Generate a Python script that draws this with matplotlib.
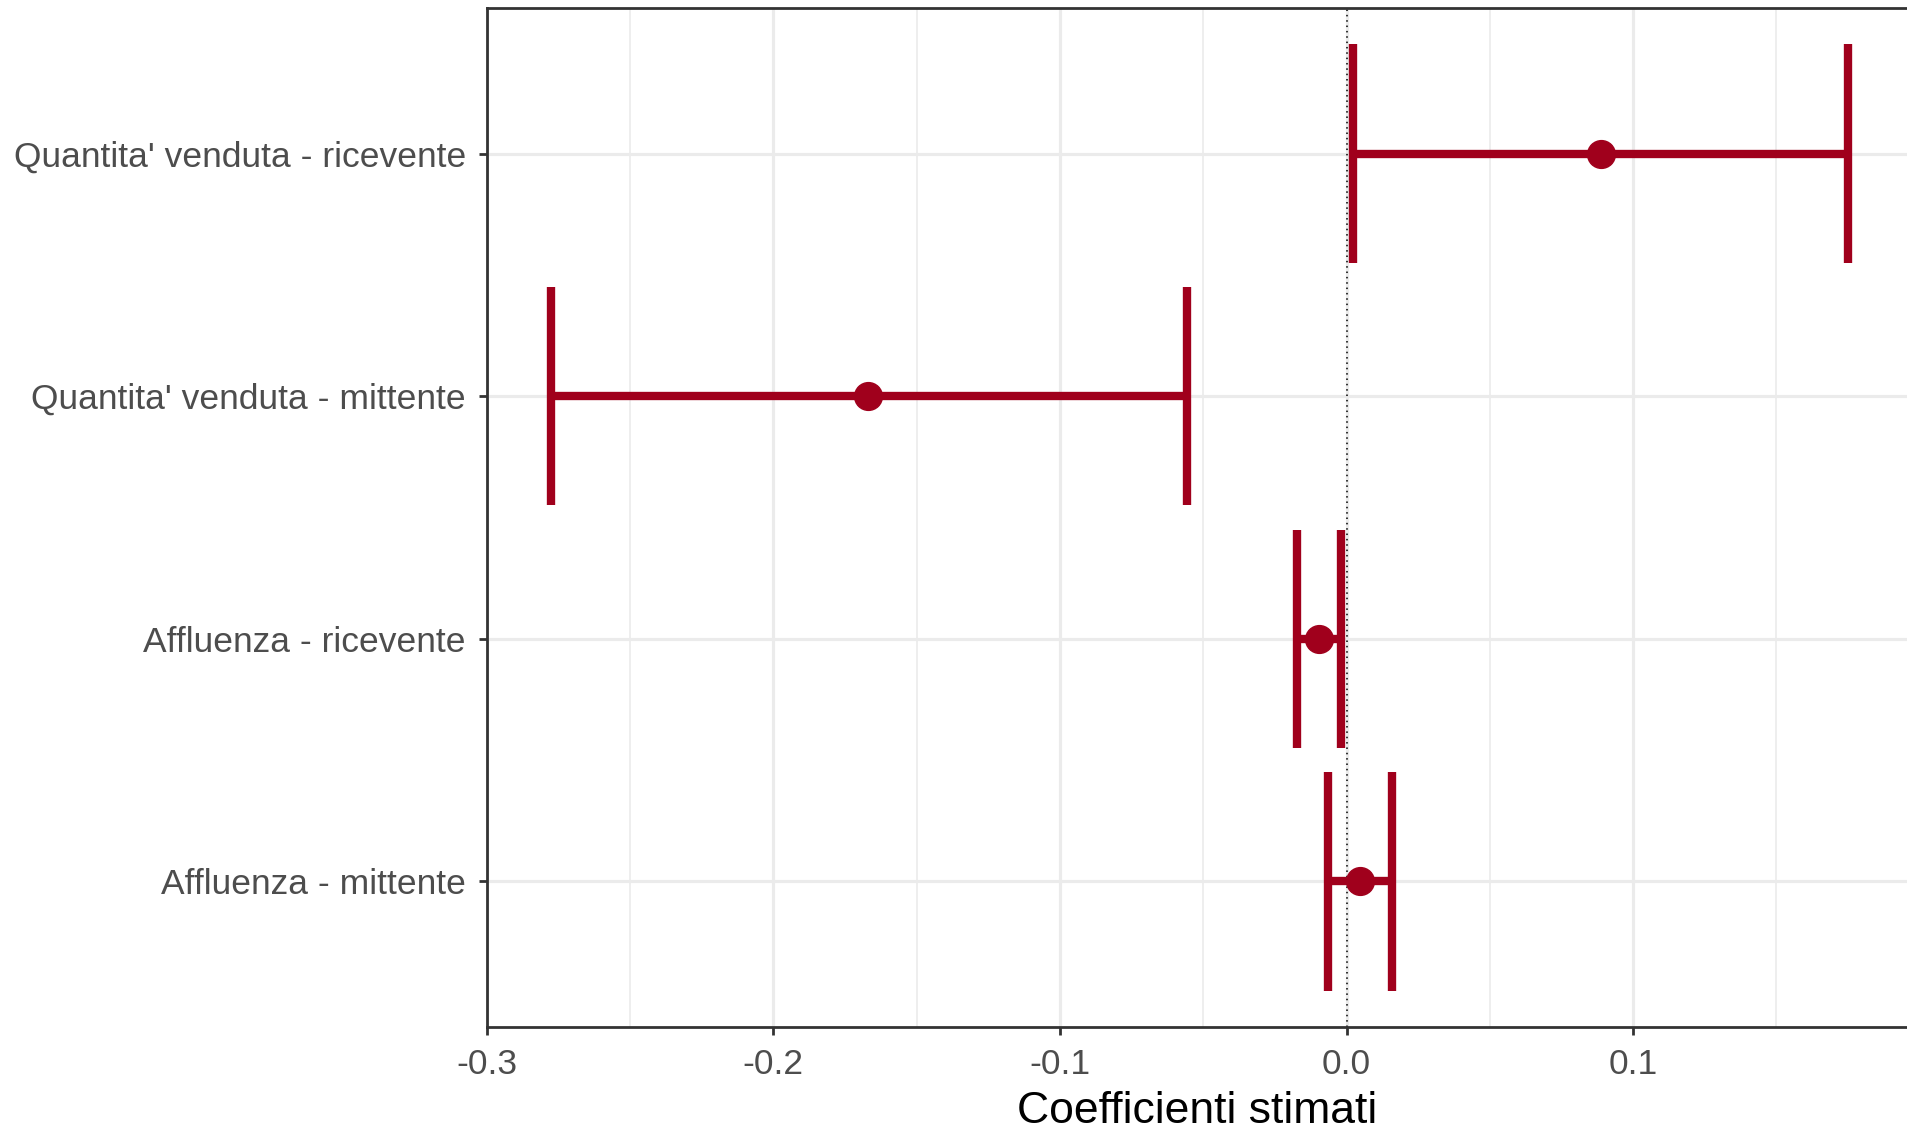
import matplotlib
matplotlib.use("Agg")
import matplotlib.pyplot as plt
from matplotlib.ticker import FixedLocator

plt.rcParams['font.family'] = ['Liberation Sans', 'DejaVu Sans']

categories = ["Affluenza - mittente", "Affluenza - ricevente",
              "Quantita' venduta - mittente", "Quantita' venduta - ricevente"]
estimate = [0.0047, -0.0097, -0.1669, 0.0887]
lower = [-0.0064, -0.0174, -0.2777, 0.0021]
upper = [0.0157, -0.0018, -0.0556, 0.1750]
xticks = [-0.3, -0.2, -0.1, 0.0, 0.1]
xticklabels = ["-0.3", "-0.2", "-0.1", "0.0", "0.1"]
xminor = [-0.25, -0.15, -0.05, 0.05, 0.15]

color = '#A0001C'
fig = plt.figure(figsize=(19.08, 11.32), dpi=100)
ax = fig.add_axes([0.2551, 0.0928, 0.7449, 0.9929 - 0.0928])

ypos = list(range(1, len(categories) + 1))
ax.set_xlim(-0.3, 0.1959)
ax.set_ylim(0.4, len(categories) + 0.6)

ax.xaxis.set_major_locator(FixedLocator(xticks))
ax.xaxis.set_minor_locator(FixedLocator(xminor))
ax.set_xticks(xticks)
ax.set_xticklabels(xticklabels)
ax.set_yticks(ypos)
ax.set_yticklabels(categories)

ax.grid(True, which='major', color='#EBEBEB', lw=2.3, zorder=0)
ax.grid(True, which='minor', axis='x', color='#EBEBEB', lw=1.2, zorder=0)
ax.set_axisbelow(True)

ax.axvline(0, color='black', lw=1.1, ls=(0, (1, 2.5)), zorder=1)

h = 0.45
ax.hlines(ypos, lower, upper, color=color, lw=6.0, zorder=3, capstyle='butt')
ax.vlines(lower, [y - h for y in ypos], [y + h for y in ypos], color=color, lw=6.0, zorder=3)
ax.vlines(upper, [y - h for y in ypos], [y + h for y in ypos], color=color, lw=6.0, zorder=3)
ax.plot(estimate, ypos, 'o', color=color, ms=20, mec=color, zorder=4)

for s in ['left', 'top', 'bottom']:
    ax.spines[s].set_color('#333333')
    ax.spines[s].set_linewidth(2.0)
ax.spines['right'].set_visible(False)

ax.tick_params(axis='both', which='major', length=6, width=2.0, color='#333333',
               labelsize=25.5, labelcolor='#4D4D4D')
ax.tick_params(axis='y', which='major', pad=9)
ax.tick_params(axis='x', which='major', pad=9)
ax.tick_params(axis='x', which='minor', length=0)
ax.set_xlabel("Coefficienti stimati", fontsize=32, color='black', labelpad=7)

fig.savefig("out.png", dpi=100)
